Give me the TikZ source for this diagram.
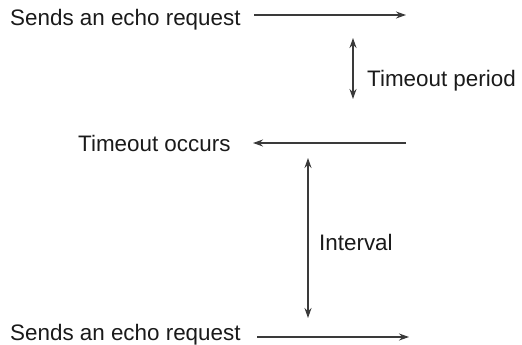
\documentclass[tikz,border=0pt]{standalone}
\usepackage{fontspec}
\setmainfont{Liberation Sans}
\usetikzlibrary{arrows.meta}
\definecolor{linegray}{HTML}{3A3A3A}
\definecolor{textblack}{HTML}{1A1A1A}
\begin{document}
\begin{tikzpicture}[x=1pt,y=-1pt,
  lbl/.style={anchor=base west,inner sep=0pt,text=textblack,font=\fontsize{22.4}{26}\selectfont},
  conn/.style={draw=linegray,line width=1.2pt,-{Stealth[length=10pt,width=7pt]}},
  dconn/.style={draw=linegray,line width=1.2pt,{Stealth[length=10pt,width=7pt]}-{Stealth[length=10pt,width=7pt]}}]
\useasboundingbox (0,0) rectangle (522,345);
\node[lbl] (req1) at (10,26) {Sends an echo request};
\node[lbl] (tocc) at (78,151) {Timeout occurs};
\node[lbl] (tper) at (367,86) {Timeout period};
\node[lbl] (intv) at (319,250) {Interval};
\node[lbl] (req2) at (10,340) {Sends an echo request};
\coordinate (a1s) at (254,15);
\coordinate (a1e) at (406,15);
\coordinate (a2s) at (406,143);
\coordinate (a2e) at (253,143);
\coordinate (a3s) at (257,337);
\coordinate (a3e) at (409,337);
\coordinate (v1t) at (353,38);
\coordinate (v1b) at (353,99);
\coordinate (v2t) at (308,158);
\coordinate (v2b) at (308,318);
\draw[conn] (a1s) -- (a1e);
\draw[conn] (a2s) -- (a2e);
\draw[conn] (a3s) -- (a3e);
\draw[dconn] (v1t) -- (v1b);
\draw[dconn] (v2t) -- (v2b);
\end{tikzpicture}
\end{document}
